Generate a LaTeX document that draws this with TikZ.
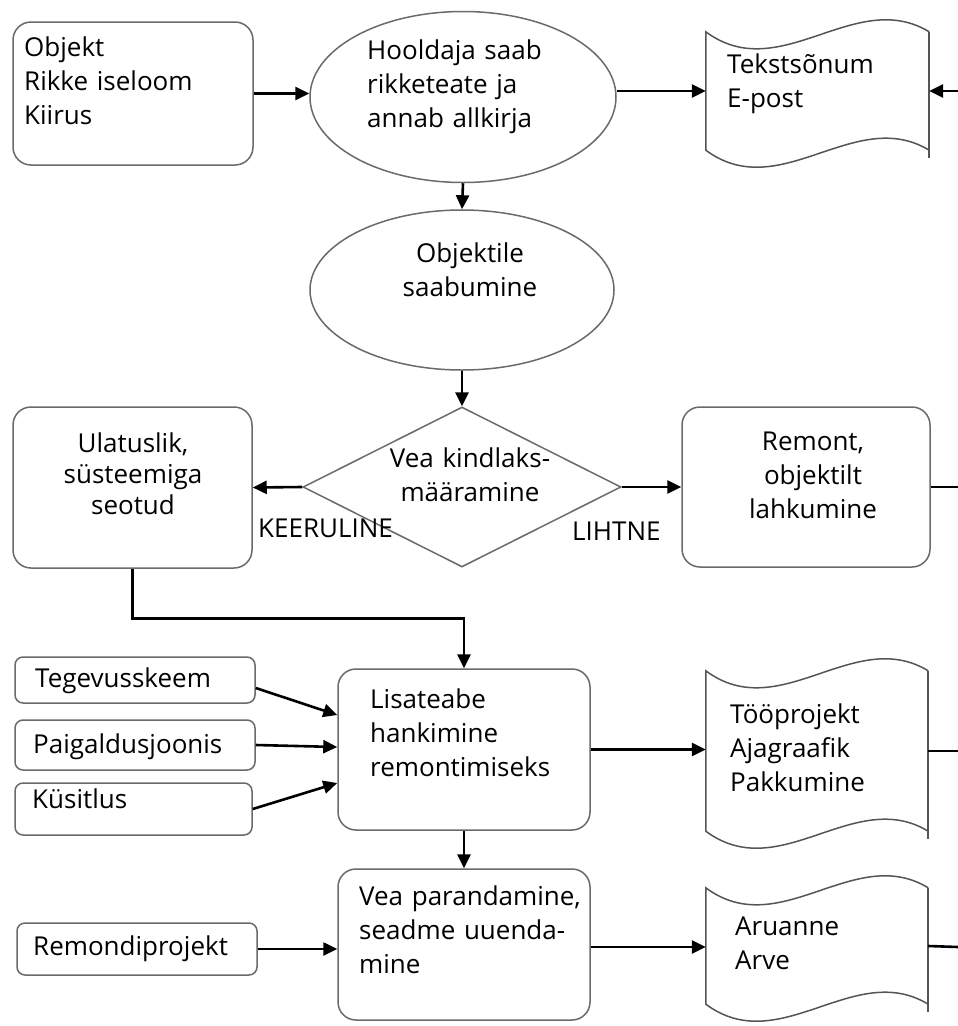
\documentclass[tikz,border=0pt]{standalone}
\usepackage{fontspec}
\setmainfont{Open Sans}
\usetikzlibrary{shapes.geometric, arrows.meta, calc}
\definecolor{boxgray}{HTML}{6A6A6A}

% wavy "punched tape" outline drawn around a named rectangle node
\newcommand\tapeoutline[1]{%
  \draw[docline] (#1.north east) -- ($(#1.south east)+(0,8)$);
  \draw[docline] (#1.north east)
    .. controls ($(#1.north east)!1/3!(#1.north west)+(0,-45)$)
            and ($(#1.north east)!2/3!(#1.north west)+(0,55)$) .. (#1.north west)
    -- (#1.south west)
    .. controls ($(#1.south west)!1/3!(#1.south east)+(0,55)$)
            and ($(#1.south west)!2/3!(#1.south east)+(0,-45)$) .. (#1.south east);
}

\begin{document}
\begin{tikzpicture}[x=1pt, y=-1pt,
  bigbox/.style={draw=boxgray, line width=1.5pt, rounded corners=18pt, inner sep=0pt},
  smallbox/.style={draw=boxgray, line width=1.5pt, rounded corners=8pt, inner sep=0pt,
    minimum width=240pt},
  oval/.style={ellipse, draw=boxgray, line width=1.5pt, inner sep=0pt},
  decision/.style={diamond, draw=boxgray, line width=1.5pt, inner sep=0pt},
  tape/.style={rectangle, draw=none, inner sep=0pt},
  docline/.style={draw=boxgray!80!black, line width=1.5pt},
  txt/.style={inner sep=0pt, font=\fontsize{26pt}{34pt}\selectfont},
  arrow/.style={-{Triangle[length=14pt,width=13pt]}, line width=2.6pt},
  plain/.style={line width=2.6pt},
]
\fill[white] (0,0) rectangle (958,1026);
\useasboundingbox (0,0) rectangle (958,1026);

% ---- top row
\node[bigbox, minimum width=240pt, minimum height=143pt] (obj) at (133,93.5) {};
\node[txt, text width=220pt, align=left, anchor=base west] (objt) at (24,56)
  {Objekt\\Rikke iseloom\\Kiirus};

\node[oval, minimum width=306pt, minimum height=171pt] (hoold) at (463,97) {};
\node[txt, text width=220pt, align=left, anchor=base west] (hooldt) at (367,59)
  {Hooldaja saab\\rikketeate ja\\annab allkirja};

\node[tape, minimum width=223pt, minimum height=118pt] (doc1) at (817.5,91) {};
\tapeoutline{doc1}
\node[txt, text width=190pt, align=left, anchor=base west] (doc1t) at (727,73)
  {Tekstsõnum\\E-post};
\coordinate (rin) at (958,91);

% ---- arrival
\node[oval, minimum width=304pt, minimum height=160pt] (arr) at (462,290) {};
\node[txt, text width=250pt, align=center, anchor=base] (arrt) at (470,262)
  {Objektile\\saabumine};

% ---- decision row
\node[decision, minimum width=318pt, minimum height=160pt] (dia) at (462,487) {};
\node[txt, text width=250pt, align=center, anchor=base] (diat) at (470,467)
  {Vea kindlaks-\\määramine};
\node[txt, anchor=base west] (keer) at (258,537) {KEERULINE};
\node[txt, anchor=base west] (liht) at (572,540) {LIHTNE};

\node[bigbox, minimum width=239pt, minimum height=161pt] (ulat) at (132.5,487.5) {};
\node[txt, font=\fontsize{26pt}{31pt}\selectfont, text width=220pt, align=center,
  anchor=base] (ulatt) at (133,452) {Ulatuslik,\\süsteemiga\\seotud};

\node[bigbox, minimum width=248pt, minimum height=160pt] (remont) at (806,487) {};
\node[txt, text width=230pt, align=center, anchor=base] (remontt) at (813,450)
  {Remont,\\objektilt\\lahkumine};
\coordinate (rout) at (958,487);

% ---- information gathering
\node[bigbox, minimum width=252pt, minimum height=161pt] (lisa) at (464,749.5) {};
\node[txt, text width=230pt, align=left, anchor=base west] (lisat) at (370,708)
  {Lisateabe\\hankimine\\remontimiseks};

\node[smallbox, minimum height=46pt] (teg) at (135,680) {};
\node[txt, anchor=base west] (tegt) at (35,687) {Tegevusskeem};
\node[smallbox, minimum height=50pt] (paig) at (135,745) {};
\node[txt, anchor=base west] (paigt) at (33,753) {Paigaldusjoonis};
\node[smallbox, minimum width=237pt, minimum height=52pt] (kus) at (133.5,809) {};
\node[txt, anchor=base west] (kust) at (32,808) {Küsitlus};

\node[tape, minimum width=222pt, minimum height=160pt] (doc2) at (817,751) {};
\tapeoutline{doc2}
\node[txt, text width=190pt, align=left, anchor=base west] (doc2t) at (730,723)
  {Tööprojekt\\Ajagraafik\\Pakkumine};
\coordinate (d2out) at (958,751);

% ---- repair
\node[bigbox, minimum width=252pt, minimum height=151pt] (vea) at (464,944.5) {};
\node[txt, text width=240pt, align=left, anchor=base west] (veat) at (359,905)
  {Vea parandamine,\\seadme uuenda-\\mine};

\node[smallbox, minimum height=52pt] (remp) at (137,949) {};
\node[txt, anchor=base west] (rempt) at (33,955) {Remondiprojekt};

\node[tape, minimum width=222pt, minimum height=116pt] (doc3) at (817,946) {};
\tapeoutline{doc3}
\node[txt, text width=190pt, align=left, anchor=base west] (doc3t) at (735,935)
  {Aruanne\\Arve};
\coordinate (d3out) at (958,947);

% ---- connectors
\draw[arrow] (obj.east) -- (obj.east -| hoold.west);
\draw[arrow] (hoold.east |- doc1.west) -- (doc1.west);
\draw[arrow] (rin) -- (doc1.east);
\draw[arrow] (hoold.south) -- (arr.north);
\draw[arrow] (arr.south) -- (dia.north);
\draw[arrow] (dia.west) -- (ulat.east);
\draw[arrow] (dia.east) -- (remont.west);
\draw[plain] (remont.east) -- (rout);
\draw[arrow] (ulat.south) -- ++(0,50) -| (lisa.north);
\draw[arrow] ([yshift=-8pt]teg.east) -- ([yshift=34.5pt]lisa.west);
\draw[arrow] (paig.east) -- ([yshift=2.5pt]lisa.west);
\draw[arrow] (kus.east) -- ([yshift=-33.5pt]lisa.west);
\draw[arrow] (lisa.south) -- (vea.north);
\draw[arrow] (lisa.east) -- (lisa.east -| doc2.west);
\draw[plain] (doc2.east) -- (d2out);
\draw[arrow] (remp.east) -- (remp.east -| vea.west);
\draw[arrow] ([yshift=-2.5pt]vea.east) -- ([yshift=-2.5pt]vea.east -| doc3.west);
\draw[plain] (doc3.east) -- (d3out);
\end{tikzpicture}
\end{document}
